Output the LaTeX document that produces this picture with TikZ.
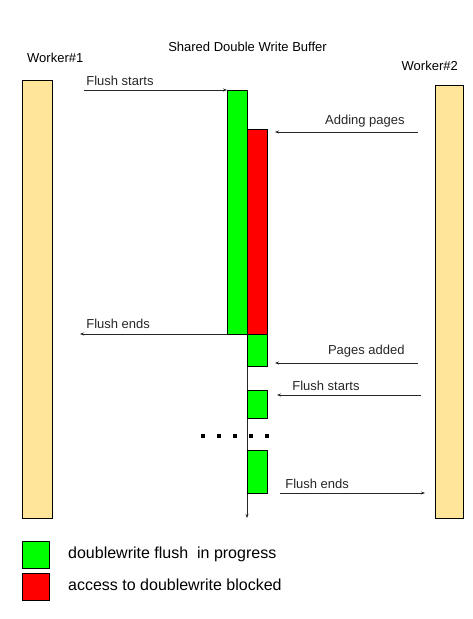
\documentclass[tikz,border=0pt]{standalone}
\usepackage{fontspec}
\setmainfont{Liberation Sans}
\usetikzlibrary{arrows.meta}
\definecolor{barfill}{RGB}{255,229,153}
\definecolor{flushgreen}{RGB}{0,255,0}
\definecolor{blockred}{RGB}{255,0,0}
\begin{document}
\begin{tikzpicture}[
  x=1pt, y=-1pt,
  worker/.style={rectangle, draw, line width=0.8pt, fill=barfill, anchor=north west, minimum width=30pt, inner sep=0pt, outer sep=0pt},
  buf/.style={rectangle, draw, line width=0.8pt, anchor=north west, minimum width=20pt, inner sep=0pt, outer sep=0pt},
  lbl/.style={inner sep=0pt, font=\fontsize{13}{15}\selectfont},
  msg/.style={-{Stealth[length=4pt,width=3pt]}, line width=0.7pt, black!85},
  font=\fontsize{13}{15}\selectfont
]
\useasboundingbox (0,0) rectangle (472,619);

% workers and buffer
\node[worker, minimum height=438pt] (w1) at (22,80) {};
\node[worker, minimum width=28pt, minimum height=433pt] (w2) at (435,85) {};
\node[lbl, anchor=base west] (w1name) at (27,62.6) {Worker\#1};
\node[lbl, anchor=base west] (w2name) at (401.5,70) {Worker\#2};
\node[lbl, anchor=base] (title) at (247.5,51.6) {Shared Double Write Buffer};

\coordinate (axend) at (247,518);
\draw[msg] (247,334) coordinate (axtop) -- (axend);

\node[buf, fill=flushgreen, minimum height=244pt] (g1) at (227,90) {};
\node[buf, fill=blockred, minimum height=205pt] (r1) at (247,129) {};
\node[buf, fill=flushgreen, minimum height=32pt] (g2) at (247,334) {};
\node[buf, fill=flushgreen, minimum height=28pt] (g3) at (247,390) {};
\node[buf, fill=flushgreen, minimum height=43pt] (g4) at (247,450) {};

\foreach \x in {203,219,235,251,267}
  \fill (\x-1.8,434.2) rectangle ++(3.6,3.6);

% messages
\coordinate (fs1) at (84,90);
\coordinate (ap1) at (418,132);
\coordinate (ap2) at (275,132);
\coordinate (fe1) at (80,334);
\coordinate (pa1) at (418,363);
\coordinate (pa2) at (275,363);
\coordinate (fs2) at (421,395);
\coordinate (fs3) at (277,395);
\coordinate (fe2) at (280,493);
\coordinate (fe3) at (425,493);

\draw[msg] (fs1) -- node[lbl, pos=0, anchor=base west, xshift=2pt, yshift=4.6pt] {Flush starts} (g1.north west);
\draw[msg] (ap1) -- node[lbl, pos=0, anchor=base east, xshift=-13pt, yshift=7.7pt] {Adding pages} (ap2);
\draw[msg] (g1.south west) -- node[lbl, pos=1, anchor=base west, xshift=6pt, yshift=5.5pt] {Flush ends} (fe1);
\draw[msg] (pa1) -- node[lbl, pos=0, anchor=base east, xshift=-13pt, yshift=8.4pt] {Pages added} (pa2);
\draw[msg] (fs2) -- node[lbl, pos=1, anchor=base west, xshift=15pt, yshift=4.3pt] {Flush starts} (fs3);
\draw[msg] (fe2) -- node[lbl, pos=0, anchor=base west, xshift=5pt, yshift=5pt] {Flush ends} (fe3);

% legend
\node[buf, fill=flushgreen, minimum width=27pt, minimum height=27pt] (lgreen) at (22,541) {};
\node[buf, fill=blockred, minimum width=27pt, minimum height=27pt] (lred) at (22,573.5) {};
\node[inner sep=0pt, anchor=base west, font=\fontsize{16}{19}\selectfont] (tgreen) at (68,558.4) {doublewrite flush\ \ in progress};
\node[inner sep=0pt, anchor=base west, font=\fontsize{16}{19}\selectfont] (tred) at (68,590) {access to doublewrite blocked};
\end{tikzpicture}
\end{document}
